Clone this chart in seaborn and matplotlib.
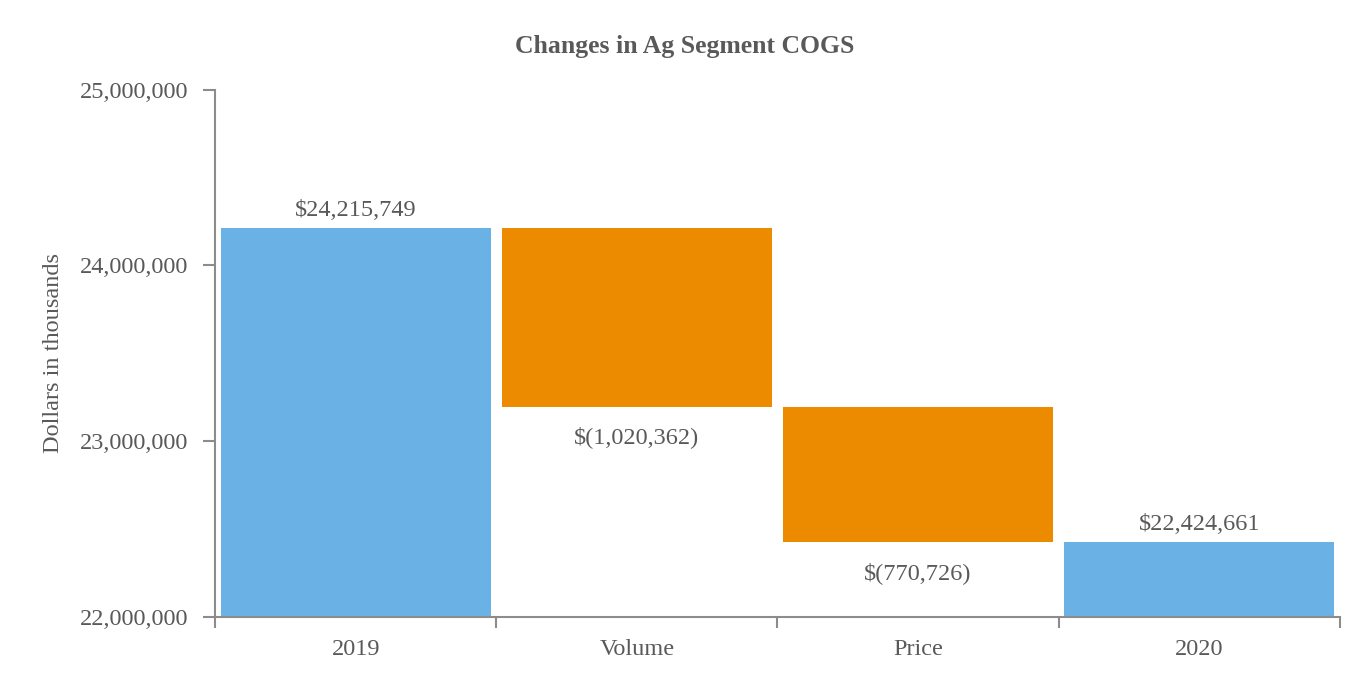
import matplotlib.pyplot as plt
import seaborn as sns
import pandas as pd
from matplotlib.ticker import FuncFormatter, FixedLocator

# datos del gráfico
categories = ["2019", "Volume", "Price", "2020"]
amounts = [24215749, -1020362, -770726, 22424661]
kinds = ["total", "change", "change", "total"]
bar_labels = ["$24,215,749", "$(1,020,362)", "$(770,726)", "$22,424,661"]

blue = "#6AB2E6"
orange = "#EC8B00"
text_color = "#595959"
axis_color = "#8C8C8C"

# calcular base y altura de cada barra (cascada)
bottoms, heights = [], []
running = 0
for amt, kind in zip(amounts, kinds):
    if kind == "total":
        bottoms.append(0)
        heights.append(amt)
        running = amt
    else:
        running_new = running + amt
        bottoms.append(min(running, running_new))
        heights.append(abs(amt))
        running = running_new

df = pd.DataFrame({"category": categories, "height": heights, "bottom": bottoms})

sns.set_style("white")
plt.rcParams["font.family"] = ["Liberation Serif", "DejaVu Serif"]

fig = plt.figure(figsize=(13.7, 6.9), dpi=100)
ax = fig.add_axes([0.157, 0.106, 0.821, 0.764])

sns.barplot(data=df, x="category", y="height", order=categories,
            bottom=df["bottom"].values, width=0.96, color=blue,
            errorbar=None, ax=ax, linewidth=0)

for patch, kind in zip(ax.patches, kinds):
    patch.set_facecolor(blue if kind == "total" else orange)

ax.set_ylim(22000000, 25000000)
ax.set_xlim(-0.5, 3.5)
ax.yaxis.set_major_locator(FixedLocator([22000000, 23000000, 24000000, 25000000]))
ax.yaxis.set_major_formatter(FuncFormatter(lambda v, p: f"{v:,.0f}"))

# etiquetas de valores
for i, (kind, lab) in enumerate(zip(kinds, bar_labels)):
    top = bottoms[i] + heights[i]
    if kind == "total":
        ax.annotate(lab, (i, top), xytext=(0, 5), textcoords="offset points",
                    ha="center", va="bottom", fontsize=17.5, color=text_color)
    else:
        ax.annotate(lab, (i, bottoms[i]), xytext=(0, -14), textcoords="offset points",
                    ha="center", va="top", fontsize=17.5, color=text_color)

# ejes
for side in ["top", "right"]:
    ax.spines[side].set_visible(False)
for side in ["left", "bottom"]:
    ax.spines[side].set_color(axis_color)
    ax.spines[side].set_linewidth(1.5)

ax.set_xticks(range(len(categories)))
ax.set_xticklabels(categories)
ax.set_xticks([-0.5, 0.5, 1.5, 2.5, 3.5], minor=True)
ax.tick_params(axis="x", which="major", length=0, pad=16, labelsize=17.5, labelcolor=text_color)
ax.tick_params(axis="x", which="minor", length=8, width=1.5, color=axis_color,
               direction="out", bottom=True)
ax.tick_params(axis="y", which="major", length=8.5, width=1.5, color=axis_color,
               labelsize=17.5, labelcolor=text_color, pad=11, left=True)

ax.set_xlabel("")
ax.set_ylabel("Dollars in thousands", fontsize=17.5, color=text_color, labelpad=11)
fig.suptitle("Changes in Ag Segment COGS", fontsize=18.5, fontweight="bold",
             color=text_color, y=0.950)

fig.savefig("out.png", dpi=100)
